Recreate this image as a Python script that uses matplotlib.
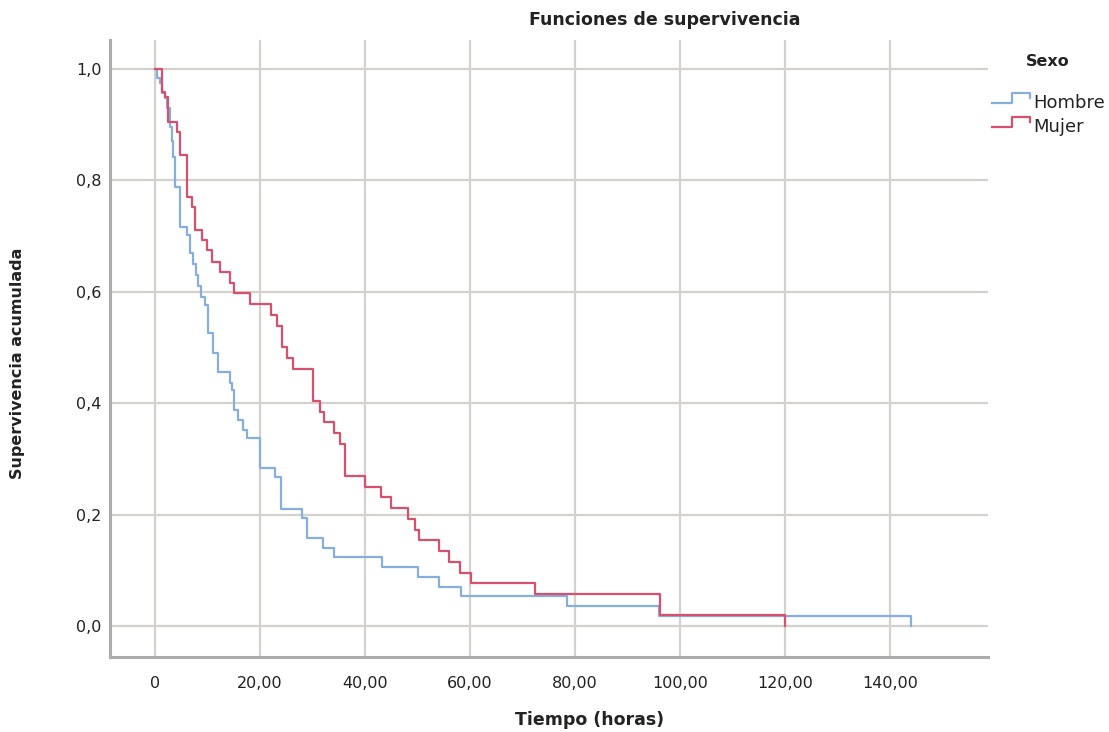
import matplotlib
matplotlib.use("Agg")
import matplotlib.pyplot as plt
from matplotlib.lines import Line2D

# ---- data ----
series_names = ["Hombre", "Mujer"]

time_hombre = [0, 0.3, 1.0, 1.4, 1.9, 2.3, 2.9, 3.2, 3.4, 3.8, 4.8, 6.0, 6.7, 7.2,
               7.7, 8.2, 8.8, 9.5, 10.1, 11.0, 12.0, 14.3, 14.7, 15.0, 15.8, 16.8,
               17.5, 20.0, 22.9, 24.0, 28.0, 29.0, 32.0, 34.0, 43.2, 50.1, 54.0,
               58.3, 78.5, 96.0, 144.0]
surv_hombre = [1.0, 0.984, 0.975, 0.957, 0.948, 0.93, 0.896, 0.87, 0.842, 0.788,
               0.716, 0.702, 0.67, 0.65, 0.63, 0.61, 0.59, 0.576, 0.526, 0.49,
               0.456, 0.436, 0.424, 0.388, 0.37, 0.352, 0.337, 0.284, 0.268, 0.21,
               0.193, 0.158, 0.14, 0.123, 0.105, 0.088, 0.070, 0.053, 0.035,
               0.0175, 0.0]

time_mujer = [0, 1.3, 1.9, 2.5, 4.2, 4.8, 6.1, 7.0, 7.6, 9.0, 9.9, 10.9, 12.4,
              14.3, 15.0, 18.1, 22.0, 23.2, 24.2, 25.1, 26.2, 30.1, 31.4, 32.2,
              34.0, 35.2, 36.2, 40.0, 43.0, 45.0, 48.1, 49.5, 50.2, 54.0, 56.0,
              58.0, 60.2, 72.4, 96.2, 120.0]
surv_mujer = [1.0, 0.959, 0.95, 0.905, 0.887, 0.846, 0.770, 0.752, 0.711, 0.693,
              0.675, 0.654, 0.635, 0.616, 0.597, 0.578, 0.558, 0.538, 0.50, 0.481,
              0.462, 0.404, 0.385, 0.366, 0.346, 0.327, 0.27, 0.25, 0.231, 0.212,
              0.192, 0.173, 0.154, 0.135, 0.115, 0.096, 0.077, 0.058, 0.019, 0.0]

x_ticks = [0, 20, 40, 60, 80, 100, 120, 140]
x_tick_labels = ["0", "20,00", "40,00", "60,00", "80,00", "100,00", "120,00", "140,00"]
y_ticks = [0.0, 0.2, 0.4, 0.6, 0.8, 1.0]
y_tick_labels = ["0,0", "0,2", "0,4", "0,6", "0,8", "1,0"]

title = "Funciones de supervivencia"
x_label = "Tiempo (horas)"
y_label = "Supervivencia acumulada"
legend_title = "Sexo"

# ---- style ----
c_h = "#86aee0"
c_m = "#d9506e"
grid_c = "#d5d1cc"
spine_c = "#acacac"
W, H = 1109, 732

plt.rcParams["font.family"] = ["DejaVu Sans"]
fig = plt.figure(figsize=(W / 100, H / 100), dpi=100)
ax = fig.add_axes([110 / W, 1 - 657 / H, (988 - 110) / W, (657 - 40) / H])

ax.step(time_hombre, surv_hombre, where="post", color=c_h, lw=1.6, zorder=3)
ax.step(time_mujer, surv_mujer, where="post", color=c_m, lw=1.6, zorder=4)

ax.set_xlim(-8.6, 158.7)
ax.set_ylim(-0.0557, 1.052)

ax.set_xticks(x_ticks)
ax.set_xticklabels(x_tick_labels, fontsize=11.5)
ax.set_yticks(y_ticks)
ax.set_yticklabels(y_tick_labels, fontsize=11.5)
ax.tick_params(axis="both", length=0, colors="#222222")
ax.tick_params(axis="x", pad=14)
ax.tick_params(axis="y", pad=6)

ax.grid(True, color=grid_c, lw=1.6, zorder=0)
ax.set_axisbelow(True)

for s in ["top", "right"]:
    ax.spines[s].set_visible(False)
for s in ["left", "bottom"]:
    ax.spines[s].set_color(spine_c)
    ax.spines[s].set_linewidth(2.2)

fig.text(665 / W, 1 - 20 / H, title, ha="center", va="center",
         fontsize=12.5, fontweight="bold", color="#222222")
fig.text(590 / W, 1 - 720 / H, x_label, ha="center", va="center",
         fontsize=12.5, fontweight="bold", color="#222222")
fig.text(18 / W, 1 - 363 / H, y_label, ha="center", va="center", rotation=90,
         fontsize=11.5, fontweight="bold", color="#222222")

# legend drawn manually (step-shaped handles)
fig.text(1048 / W, 1 - 62 / H, legend_title, ha="center", va="center",
         fontsize=11.5, fontweight="bold", color="#222222")
for i, (name, col) in enumerate(zip(series_names, [c_h, c_m])):
    yb = 103 + 24 * i
    xs = [992, 1012, 1012, 1030, 1030]
    ys = [yb, yb, yb - 10, yb - 10, yb - 5]
    fig.add_artist(Line2D([x / W for x in xs], [1 - y / H for y in ys],
                          transform=fig.transFigure, color=col, lw=1.6))
    fig.text(1033 / W, 1 - yb / H, name, ha="left", va="center",
             fontsize=13, color="#222222")

fig.savefig("out.png", dpi=100)
